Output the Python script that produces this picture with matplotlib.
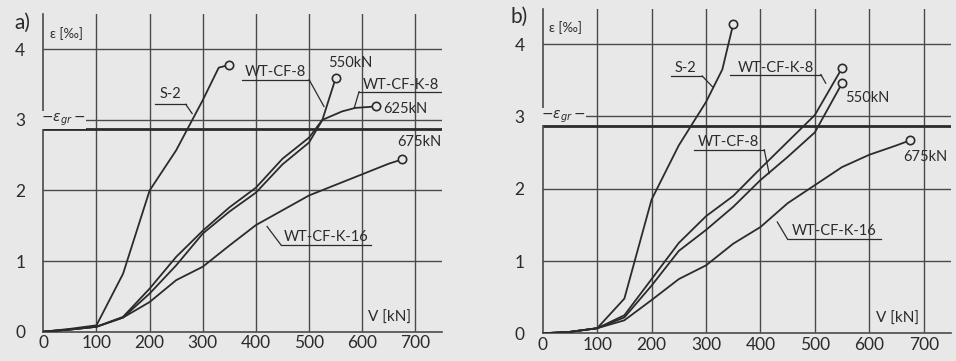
import matplotlib.pyplot as plt

BG = "#e8e8e8"
INK = "#2b2b2b"
GRID = "#4a4a4a"
FONT = ["Lato", "DejaVu Sans"]

V_TICKS = [0, 100, 200, 300, 400, 500, 600, 700]
EPS_TICKS = [0, 1, 2, 3, 4]
EPS_GR = 2.87

# ---------------------------------------------------------------------------
# Panel a) data
# ---------------------------------------------------------------------------
A_S2_V = [0, 50, 100, 150, 200, 250, 300, 330, 350]
A_S2_E = [0, 0.04, 0.09, 0.82, 2.0, 2.57, 3.28, 3.74, 3.78]

A_CF8_V = [0, 50, 100, 150, 200, 250, 300, 350, 400, 450, 500, 525, 550]
A_CF8_E = [0, 0.03, 0.07, 0.2, 0.54, 0.94, 1.39, 1.70, 1.97, 2.37, 2.68, 3.0, 3.59]

A_CFK8_V = [0, 50, 100, 150, 200, 250, 300, 350, 400, 450, 500, 525, 562, 587, 625]
A_CFK8_E = [0, 0.03, 0.07, 0.21, 0.61, 1.06, 1.43, 1.76, 2.04, 2.45, 2.75, 3.0, 3.12, 3.17, 3.19]

A_CFK16_V = [0, 50, 100, 150, 200, 250, 300, 350, 400, 450, 500, 550, 600, 650, 675]
A_CFK16_E = [0, 0.03, 0.07, 0.2, 0.42, 0.73, 0.92, 1.22, 1.51, 1.72, 1.93, 2.08, 2.23, 2.38, 2.44]

# ---------------------------------------------------------------------------
# Panel b) data
# ---------------------------------------------------------------------------
B_S2_V = [0, 50, 100, 150, 200, 250, 300, 330, 350]
B_S2_E = [0, 0.02, 0.07, 0.48, 1.85, 2.6, 3.2, 3.65, 4.28]

B_CFK8_V = [0, 50, 100, 150, 200, 250, 300, 350, 400, 450, 500, 550]
B_CFK8_E = [0, 0.02, 0.07, 0.25, 0.75, 1.25, 1.62, 1.9, 2.28, 2.65, 3.02, 3.67]

B_CF8_V = [0, 50, 100, 150, 200, 250, 300, 350, 400, 450, 500, 550]
B_CF8_E = [0, 0.02, 0.07, 0.22, 0.66, 1.14, 1.43, 1.75, 2.12, 2.44, 2.78, 3.46]

B_CFK16_V = [0, 50, 100, 150, 200, 250, 300, 350, 400, 450, 500, 550, 600, 650, 675]
B_CFK16_E = [0, 0.02, 0.07, 0.18, 0.46, 0.75, 0.94, 1.24, 1.47, 1.8, 2.05, 2.3, 2.47, 2.6, 2.67]

# (text, text x, text y, underline x0, underline x1, underline y, leader end x, leader end y)
A_LABELS = [
    ("S-2", 240, 3.36, 211, 268, 3.22, 280, 3.09),
    ("WT-CF-8", 437, 3.68, 374, 500, 3.57, 528, 3.19),
    ("WT-CF-K-8", 673, 3.50, 594, 752, 3.40, 585, 3.17),
    ("WT-CF-K-16", 532, 1.34, 447, 617, 1.23, 421, 1.49),
]
B_LABELS = [
    ("S-2", 262, 3.67, 235, 293, 3.56, 312, 3.41),
    ("WT-CF-K-8", 428, 3.67, 345, 511, 3.58, 520, 3.46),
    ("WT-CF-8", 342, 2.65, 278, 407, 2.54, 416, 2.21),
    ("WT-CF-K-16", 535, 1.41, 450, 621, 1.30, 431, 1.54),
]
# (text, x, y, ha)
A_LOADS = [("550kN", 578, 3.80, "center"), ("625kN", 640, 3.16, "left"),
           ("675kN", 708, 2.68, "center")]
B_LOADS = [("550kN", 596, 3.25, "center"), ("675kN", 703, 2.44, "center")]


def draw_panel(ax, series, labels, loads, ylim):
    ax.set_facecolor(BG)
    ax.set_xlim(0, 750)
    ax.set_ylim(0, ylim)
    for v in V_TICKS[1:]:
        ax.axvline(v, color=GRID, lw=1.0, zorder=1)
    for e in EPS_TICKS[1:]:
        ax.axhline(e, color=GRID, lw=1.0, zorder=1)
    ax.axhline(EPS_GR, color=INK, lw=2.0, zorder=2)

    for v, e in series:
        ax.plot(v, e, color=INK, lw=1.3, zorder=3)
        ax.plot(v[-1], e[-1], marker="o", ms=6, mfc=BG, mec=INK, mew=1.2,
                zorder=4)

    for txt, tx, ty, u0, u1, uy, lx, ly in labels:
        ax.text(tx, ty, txt, ha="center", va="center", fontsize=10.5,
                family=FONT, color=INK, zorder=5)
        ax.plot([u0, u1], [uy, uy], color=INK, lw=0.9, zorder=5)
        start = u1 if abs(lx - u1) < abs(lx - u0) else u0
        ax.plot([start, lx], [uy, ly], color=INK, lw=0.9, zorder=5)

    for txt, x, y, ha in loads:
        ax.text(x, y, txt, ha=ha, va="center", fontsize=10.5, family=FONT,
                color=INK, zorder=5)

    ax.text(652, 0.2, "V [kN]", ha="center", va="center", fontsize=11,
            family=FONT, color=INK)
    ax.text(12, 4.23, "ε [‰]", ha="left", va="center", fontsize=9.5,
            family=FONT, color=INK)
    ax.text(38, 3.0, "$-\\varepsilon_{gr}-$", ha="center", va="center",
            fontsize=10, color=INK,
            bbox=dict(facecolor=BG, edgecolor="none", pad=0.5), zorder=5)

    ax.set_xticks(V_TICKS)
    ax.set_yticks(EPS_TICKS)
    ax.tick_params(axis="x", length=0, pad=2.5, labelsize=12.5, colors=INK)
    ax.tick_params(axis="y", length=0, pad=13, labelsize=12.5, colors=INK)
    for lab in ax.get_xticklabels() + ax.get_yticklabels():
        lab.set_family(FONT)
    for side in ["top", "right"]:
        ax.spines[side].set_visible(False)
    for side in ["left", "bottom"]:
        ax.spines[side].set_color(GRID)
        ax.spines[side].set_linewidth(1.2)


def main():
    fig = plt.figure(figsize=(9.56, 3.61), dpi=100)
    fig.patch.set_facecolor(BG)

    ax_a = fig.add_axes([0.0453, 0.0812, 0.417, 0.880])
    ax_b = fig.add_axes([0.5677, 0.0767, 0.427, 0.897])

    draw_panel(ax_a,
               [(A_S2_V, A_S2_E), (A_CF8_V, A_CF8_E),
                (A_CFK8_V, A_CFK8_E), (A_CFK16_V, A_CFK16_E)],
               A_LABELS, A_LOADS, 4.5)
    draw_panel(ax_b,
               [(B_S2_V, B_S2_E), (B_CFK8_V, B_CFK8_E),
                (B_CF8_V, B_CF8_E), (B_CFK16_V, B_CFK16_E)],
               B_LABELS, B_LOADS, 4.48)

    fig.text(0.023, 0.938, "a)", ha="center", va="center", fontsize=15,
             family=FONT, color=INK)
    fig.text(0.543, 0.952, "b)", ha="center", va="center", fontsize=15,
             family=FONT, color=INK)

    fig.savefig("out.png", dpi=100, facecolor=BG)


if __name__ == "__main__":
    main()
